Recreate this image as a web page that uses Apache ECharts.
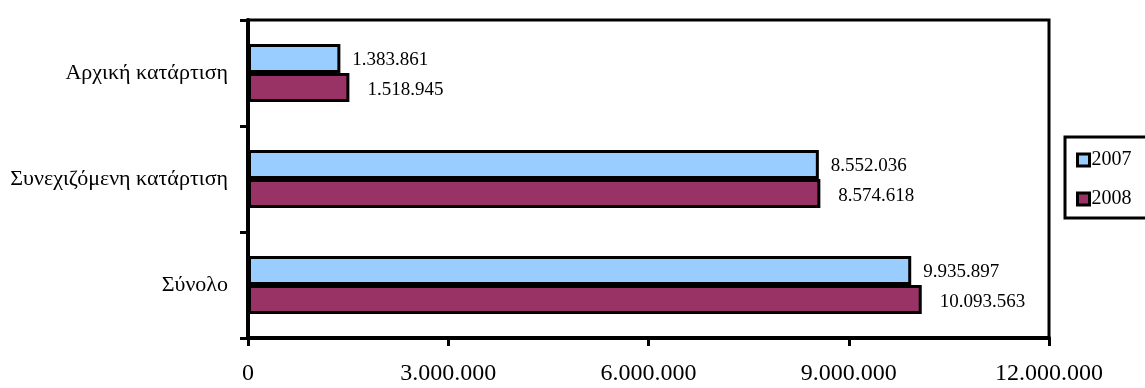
<!DOCTYPE html>
<html lang="el">
<head>
    <meta charset="UTF-8">
    <title>Κατάρτιση 2007 - 2008</title>
    <script src="https://cdn.jsdelivr.net/npm/echarts@6/dist/echarts.min.js"></script>
    <style>
        body { margin: 0; background: #fff; }
        #chart { width: 1145px; height: 388px; }
    </style>
</head>
<body>
<div id="chart"></div>
<script>
    // δεδομένα
    const categories = ['Αρχική κατάρτιση', 'Συνεχιζόμενη κατάρτιση', 'Σύνολο'];
    const years = ['2007', '2008'];
    const values2007 = [1383861, 8552036, 9935897];
    const values2008 = [1518945, 8574618, 10093563];
    const xTicks = [0, 3000000, 6000000, 9000000, 12000000];

    const font = "'Liberation Serif', 'Times New Roman', serif";

    // 1234567 -> 1.234.567
    function fmt(v) {
        return String(v).replace(/\B(?=(\d{3})+(?!\d))/g, '.');
    }

    const chart = echarts.init(document.getElementById('chart'));

    chart.setOption({
        animation: false,
        textStyle: { fontFamily: font, color: '#000' },
        grid: {
            left: 248, right: 96, top: 20, bottom: 50,
            show: true, borderColor: '#000', borderWidth: 3
        },
        // πλαίσιο υπομνήματος (κόβεται στη δεξιά άκρη όπως στο πρωτότυπο)
        graphic: [{
            type: 'rect',
            shape: { x: 1065, y: 137, width: 120, height: 81 },
            style: { fill: 'none', stroke: '#000', lineWidth: 3 }
        }],
        legend: {
            orient: 'vertical',
            left: 1065, top: 137,
            padding: [13, 0, 9, 11],
            itemWidth: 12, itemHeight: 12,
            itemGap: 19,
            icon: 'rect',
            itemStyle: { borderColor: '#000', borderWidth: 3 },
            textStyle: { fontFamily: font, fontSize: 20, color: '#000', padding: [0, 0, 0, -3] },
            data: years
        },
        xAxis: {
            type: 'value',
            min: xTicks[0],
            max: xTicks[xTicks.length - 1],
            interval: xTicks[1] - xTicks[0],
            axisLine: { show: true, lineStyle: { color: '#000', width: 4 } },
            axisTick: { show: true, length: 8, lineStyle: { color: '#000', width: 3 } },
            splitLine: { show: false },
            axisLabel: { fontFamily: font, fontSize: 24, color: '#000', margin: 24, formatter: fmt }
        },
        yAxis: {
            type: 'category',
            inverse: true,
            data: categories,
            axisLine: { show: true, lineStyle: { color: '#000', width: 4 } },
            axisTick: { show: true, length: 8, lineStyle: { color: '#000', width: 3 } },
            axisLabel: { fontFamily: font, fontSize: 22, color: '#000', margin: 20 }
        },
        series: [
            {
                name: years[0],
                type: 'bar',
                data: values2007,
                barWidth: 29,
                barGap: '0%',
                itemStyle: { color: '#99CCFF', borderColor: '#000', borderWidth: 3 },
                label: {
                    show: true, position: 'right', distance: 12, offset: [0, 2],
                    fontFamily: font, fontSize: 19, color: '#000',
                    formatter: p => fmt(p.value)
                }
            },
            {
                name: years[1],
                type: 'bar',
                data: values2008,
                barWidth: 29,
                barGap: '0%',
                itemStyle: { color: '#993366', borderColor: '#000', borderWidth: 3 },
                label: {
                    show: true, position: 'right', distance: 18, offset: [0, 3],
                    fontFamily: font, fontSize: 19, color: '#000',
                    formatter: p => fmt(p.value)
                }
            }
        ]
    });
</script>
</body>
</html>
